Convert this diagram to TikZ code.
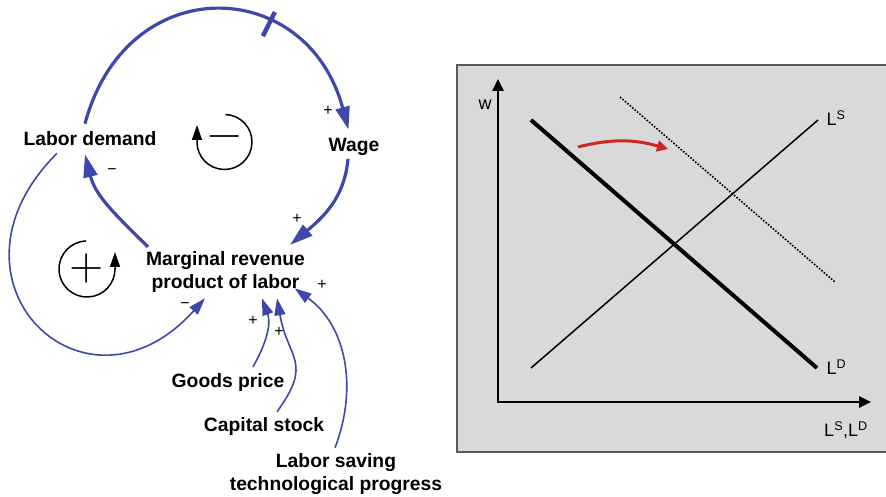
\documentclass[tikz,border=0pt]{standalone}
\usepackage{fontspec}
\setmainfont{Liberation Sans}
\newfontfamily\loopfont{Latin Modern Math}
\usepackage{xcolor}
\usetikzlibrary{arrows.meta,positioning}
\definecolor{loopblue}{RGB}{63,72,170}
\definecolor{shiftred}{RGB}{204,40,32}
\definecolor{panelgray}{RGB}{217,217,217}

\begin{document}
\begin{tikzpicture}[x=1pt, y=1pt]
    \tikzstyle{var}=[font=\fontsize{19.3}{23}\selectfont\bfseries, align=center, inner sep=2pt]
    \tikzstyle{sign}=[font=\fontsize{16}{16}\selectfont, inner sep=0pt]
    \tikzstyle{mainlink}=[draw=loopblue, line width=3.2pt, -{Triangle[length=23pt,width=14pt]}]
    \tikzstyle{link}=[draw=loopblue, line width=1.6pt, -{Triangle[length=17pt,width=11pt]}]
    \tikzstyle{loopsym}=[draw, line width=1.5pt, -{Triangle[length=15pt,width=10pt]}]
    \tikzstyle{loopsign}=[font=\fontsize{44}{44}\loopfont, inner sep=0pt]
    \tikzstyle{axislab}=[font=\fontsize{18}{18}\selectfont, inner sep=0pt]
    \useasboundingbox (0,0) rectangle (886,497);

    % causal loop diagram
    \node[var] (ld) at (90,358) {Labor demand};
    \node[var] (wage) at (354,350) {Wage};
    \node[var] (mrpl) at (225.5,225.4) {Marginal revenue\\product of labor};
    \node[var] (gp) at (228,114) {Goods price};
    \node[var] (cs) at (264,70) {Capital stock};
    \node[var] (lstp) at (336,22.5) {Labor saving\\technological progress};

    \draw[mainlink] ([xshift=-5pt,yshift=6pt]ld.north) .. controls +(75:160) and +(105:160) .. ([xshift=-5.5pt,yshift=6.4pt]wage.north)
        node[pos=0.66, sloped, fill=loopblue, minimum width=4.5pt, minimum height=27pt, inner sep=0pt] (delay) {};
    \draw[mainlink] ([xshift=-6pt,yshift=-1pt]wage.south) to[out=-95, in=40] ([xshift=-17pt,yshift=4pt]mrpl.north east);
    \draw[mainlink] ([xshift=4pt,yshift=2pt]mrpl.north west) to[out=135, in=-76] ([xshift=-5pt,yshift=-6pt]ld.south);
    \draw[link] ([xshift=-33pt,yshift=-5pt]ld.south) .. controls +(225:180) and +(228:180) .. ([xshift=-20.5pt,yshift=-4pt]mrpl.south);
    \draw[link] ([xshift=25pt,yshift=5pt]gp.north) to[out=60, in=-70] ([xshift=36.5pt,yshift=-4pt]mrpl.south);
    \draw[link] ([xshift=13pt,yshift=4pt]cs.north) to[out=54, in=-80, looseness=1.4] ([xshift=51.5pt,yshift=-4pt]mrpl.south);
    \draw[link] ([xshift=-1pt,yshift=4pt]lstp.north) to[out=69, in=-36] ([xshift=-12.5pt,yshift=6pt]mrpl.south east);

    \node[sign] (s1) at (328,386) {+};
    \node[sign] (s2) at (297,278) {+};
    \node[sign] (s3) at (112,325) {−};
    \node[sign] (s4) at (185,191) {−};
    \node[sign] (s5) at (253,176) {+};
    \node[sign] (s6) at (279,165) {+};
    \node[sign] (s7) at (322,212) {+};

    \node[loopsign] (bal) at (224.5,355) {−};
    \draw[loopsym] ([shift={(88:27.5)}]bal.center) arc[start angle=88, end angle=-180, radius=27.5] -- ++(0,17);
    \node[loopsign] (rein) at (87,228) {+};
    \draw[loopsym] ([shift={(92:28)}]rein.center) arc[start angle=92, end angle=360, radius=28] -- ++(0,17);

    % labour market panel
    \draw[draw=black!65, line width=1.5pt, fill=panelgray] (457,45) rectangle (892,432);
    \coordinate (o) at (498,95);
    \coordinate (ytop) at (498,418);
    \coordinate (xend) at (871,95);
    \draw[line width=2.6pt, {Triangle[length=12pt,width=11pt]}-{Triangle[length=12pt,width=11pt]}] (ytop) -- (o) -- (xend);
    \coordinate (lda) at (531,377);
    \coordinate (ldb) at (817,129);
    \coordinate (lsa) at (531,129);
    \coordinate (lsb) at (818,377);
    \coordinate (nda) at (620,400);
    \coordinate (ndb) at (835,215);
    \draw[line width=4pt] (lda) -- (ldb);
    \draw[line width=1.5pt] (lsa) -- (lsb);
    \draw[line width=1.6pt, dash pattern=on 1.6pt off 1.6pt] (nda) -- (ndb);
    \coordinate (shs) at (578,350);
    \coordinate (she) at (668,348);
    \draw[shiftred, line width=3pt, -{Triangle[length=11pt,width=11pt]}] (shs) to[out=14, in=164] (she);

    \node[axislab, anchor=base] (wlab) at (485,387) {w};
    \node[axislab, anchor=base west] (lslab) at (826.5,371) {L\textsuperscript{S}};
    \node[axislab, anchor=base west] (ldlab) at (826.5,122) {L\textsuperscript{D}};
    \node[axislab, anchor=base] (xlab) at (846,60) {L\textsuperscript{S},L\textsuperscript{D}};
\end{tikzpicture}
\end{document}
